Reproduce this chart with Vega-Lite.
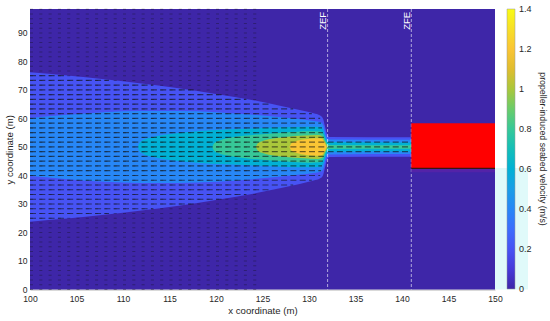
{
  "$schema": "https://vega.github.io/schema/vega-lite/v6.json",
  "autosize": {"type": "none"},
  "width": 465,
  "height": 280.5,
  "padding": {"left": 30, "top": 9, "right": 55, "bottom": 31.5},
  "background": "white",
  "config": {
    "view": {"stroke": null},
    "font": "Liberation Sans",
    "axis": {"labelFont": "Liberation Sans", "titleFont": "Liberation Sans", "labelColor": "#262626", "titleColor": "#262626", "labelFontSize": 8.6, "titleFontSize": 9.6, "titleFontWeight": "normal", "domainColor": "#7f7f7f", "domainWidth": 0.6, "ticks": false, "grid": false, "labelOverlap": false},
    "axisY": {"tickCount": 10},
    "legend": {"labelFont": "Liberation Sans", "titleFont": "Liberation Sans", "labelColor": "#262626", "titleColor": "#262626"}
  },
  "datasets": {
    "bands": [
      {"level": 0, "x": 100, "lo": 0, "hi": 98.4},
      {"level": 0, "x": 150, "lo": 0, "hi": 98.4},
      {"level": 0.2, "x": 100, "lo": 23.8, "hi": 76.2},
      {"level": 0.2, "x": 104, "lo": 24.9, "hi": 75.1},
      {"level": 0.2, "x": 108, "lo": 26.2, "hi": 73.8},
      {"level": 0.2, "x": 112, "lo": 27.7, "hi": 72.3},
      {"level": 0.2, "x": 116, "lo": 29.4, "hi": 70.6},
      {"level": 0.2, "x": 120, "lo": 31.4, "hi": 68.6},
      {"level": 0.2, "x": 124, "lo": 33.6, "hi": 66.4},
      {"level": 0.2, "x": 127, "lo": 35.6, "hi": 64.4},
      {"level": 0.2, "x": 129, "lo": 37.0, "hi": 63.0},
      {"level": 0.2, "x": 130.5, "lo": 38.2, "hi": 61.8},
      {"level": 0.2, "x": 131.2, "lo": 39.0, "hi": 61.0},
      {"level": 0.2, "x": 131.5, "lo": 40.0, "hi": 60.0},
      {"level": 0.2, "x": 131.7, "lo": 42.5, "hi": 57.5},
      {"level": 0.2, "x": 131.9, "lo": 45.2, "hi": 54.8},
      {"level": 0.2, "x": 132.2, "lo": 46.5, "hi": 53.5},
      {"level": 0.2, "x": 141, "lo": 46.6, "hi": 53.4},
      {"level": 0.4, "x": 100, "lo": 39.8, "hi": 60.2},
      {"level": 0.4, "x": 104, "lo": 38.7, "hi": 61.3},
      {"level": 0.4, "x": 108, "lo": 37.8, "hi": 62.2},
      {"level": 0.4, "x": 112, "lo": 37.4, "hi": 62.6},
      {"level": 0.4, "x": 116, "lo": 37.4, "hi": 62.6},
      {"level": 0.4, "x": 120, "lo": 37.8, "hi": 62.2},
      {"level": 0.4, "x": 124, "lo": 38.7, "hi": 61.3},
      {"level": 0.4, "x": 127, "lo": 39.6, "hi": 60.4},
      {"level": 0.4, "x": 129, "lo": 40.3, "hi": 59.7},
      {"level": 0.4, "x": 130.5, "lo": 40.9, "hi": 59.1},
      {"level": 0.4, "x": 131.3, "lo": 41.4, "hi": 58.6},
      {"level": 0.4, "x": 131.6, "lo": 43.0, "hi": 57.0},
      {"level": 0.4, "x": 131.8, "lo": 46.0, "hi": 54.0},
      {"level": 0.4, "x": 132.1, "lo": 47.4, "hi": 52.6},
      {"level": 0.4, "x": 141, "lo": 47.5, "hi": 52.5},
      {"level": 0.6, "x": 111.6, "lo": 50.0, "hi": 50.0},
      {"level": 0.6, "x": 111.8, "lo": 48.5, "hi": 51.5},
      {"level": 0.6, "x": 112.3, "lo": 47.4, "hi": 52.6},
      {"level": 0.6, "x": 113.2, "lo": 46.5, "hi": 53.5},
      {"level": 0.6, "x": 114.5, "lo": 45.7, "hi": 54.3},
      {"level": 0.6, "x": 116, "lo": 45.1, "hi": 54.9},
      {"level": 0.6, "x": 118, "lo": 44.5, "hi": 55.5},
      {"level": 0.6, "x": 121, "lo": 43.9, "hi": 56.1},
      {"level": 0.6, "x": 124, "lo": 43.5, "hi": 56.5},
      {"level": 0.6, "x": 127, "lo": 43.1, "hi": 56.9},
      {"level": 0.6, "x": 130, "lo": 42.9, "hi": 57.1},
      {"level": 0.6, "x": 131.2, "lo": 43.0, "hi": 57.0},
      {"level": 0.6, "x": 131.5, "lo": 44.0, "hi": 56.0},
      {"level": 0.6, "x": 131.8, "lo": 47.0, "hi": 53.0},
      {"level": 0.6, "x": 132.1, "lo": 48.3, "hi": 51.7},
      {"level": 0.6, "x": 141, "lo": 48.4, "hi": 51.6},
      {"level": 0.8, "x": 119.6, "lo": 50.0, "hi": 50.0},
      {"level": 0.8, "x": 119.8, "lo": 48.7, "hi": 51.3},
      {"level": 0.8, "x": 120.4, "lo": 47.7, "hi": 52.3},
      {"level": 0.8, "x": 121.5, "lo": 46.8, "hi": 53.2},
      {"level": 0.8, "x": 123, "lo": 46.1, "hi": 53.9},
      {"level": 0.8, "x": 125, "lo": 45.5, "hi": 54.5},
      {"level": 0.8, "x": 127.5, "lo": 44.9, "hi": 55.1},
      {"level": 0.8, "x": 130, "lo": 44.5, "hi": 55.5},
      {"level": 0.8, "x": 131.2, "lo": 44.6, "hi": 55.4},
      {"level": 0.8, "x": 131.5, "lo": 45.4, "hi": 54.6},
      {"level": 0.8, "x": 131.8, "lo": 48.0, "hi": 52.0},
      {"level": 0.8, "x": 132.1, "lo": 49.3, "hi": 50.7},
      {"level": 0.8, "x": 141, "lo": 49.4, "hi": 50.6},
      {"level": 1.0, "x": 124.3, "lo": 50.0, "hi": 50.0},
      {"level": 1.0, "x": 124.5, "lo": 48.7, "hi": 51.3},
      {"level": 1.0, "x": 125.1, "lo": 47.8, "hi": 52.2},
      {"level": 1.0, "x": 126, "lo": 47.1, "hi": 52.9},
      {"level": 1.0, "x": 127.5, "lo": 46.5, "hi": 53.5},
      {"level": 1.0, "x": 129.5, "lo": 46.0, "hi": 54.0},
      {"level": 1.0, "x": 131, "lo": 45.8, "hi": 54.2},
      {"level": 1.0, "x": 131.4, "lo": 46.2, "hi": 53.8},
      {"level": 1.0, "x": 131.7, "lo": 48.0, "hi": 52.0},
      {"level": 1.0, "x": 132, "lo": 50.0, "hi": 50.0},
      {"level": 1.2, "x": 127.9, "lo": 50.0, "hi": 50.0},
      {"level": 1.2, "x": 128.1, "lo": 48.8, "hi": 51.2},
      {"level": 1.2, "x": 128.6, "lo": 48.0, "hi": 52.0},
      {"level": 1.2, "x": 129.4, "lo": 47.4, "hi": 52.6},
      {"level": 1.2, "x": 130.3, "lo": 47.0, "hi": 53.0},
      {"level": 1.2, "x": 131, "lo": 46.9, "hi": 53.1},
      {"level": 1.2, "x": 131.4, "lo": 47.2, "hi": 52.8},
      {"level": 1.2, "x": 131.7, "lo": 48.6, "hi": 51.4},
      {"level": 1.2, "x": 131.9, "lo": 50.0, "hi": 50.0}
    ],
    "bgRows": [
      {"y": 0, "x0": 100, "x1": 125}, {"y": 1.667, "x0": 100, "x1": 125}, {"y": 3.333, "x0": 100, "x1": 125}, {"y": 5, "x0": 100, "x1": 125}, {"y": 6.667, "x0": 100, "x1": 125},
      {"y": 8.333, "x0": 100, "x1": 125}, {"y": 10, "x0": 100, "x1": 125}, {"y": 11.667, "x0": 100, "x1": 125}, {"y": 13.333, "x0": 100, "x1": 125}, {"y": 15, "x0": 100, "x1": 125},
      {"y": 16.667, "x0": 100, "x1": 125}, {"y": 18.333, "x0": 100, "x1": 125}, {"y": 20, "x0": 100, "x1": 125}, {"y": 21.667, "x0": 100, "x1": 125}, {"y": 23.333, "x0": 100, "x1": 125},
      {"y": 25, "x0": 100, "x1": 125}, {"y": 26.667, "x0": 100, "x1": 125}, {"y": 28.333, "x0": 100, "x1": 125}, {"y": 30, "x0": 100, "x1": 125}, {"y": 31.667, "x0": 100, "x1": 125},
      {"y": 33.333, "x0": 100, "x1": 125}, {"y": 35, "x0": 100, "x1": 125}, {"y": 36.667, "x0": 100, "x1": 125}, {"y": 38.333, "x0": 100, "x1": 125}, {"y": 40, "x0": 100, "x1": 125},
      {"y": 41.667, "x0": 100, "x1": 125}, {"y": 43.333, "x0": 100, "x1": 125}, {"y": 45, "x0": 100, "x1": 125}, {"y": 46.667, "x0": 100, "x1": 125}, {"y": 48.333, "x0": 100, "x1": 125},
      {"y": 50, "x0": 100, "x1": 125}, {"y": 51.667, "x0": 100, "x1": 125}, {"y": 53.333, "x0": 100, "x1": 125}, {"y": 55, "x0": 100, "x1": 125}, {"y": 56.667, "x0": 100, "x1": 125},
      {"y": 58.333, "x0": 100, "x1": 125}, {"y": 60, "x0": 100, "x1": 125}, {"y": 61.667, "x0": 100, "x1": 125}, {"y": 63.333, "x0": 100, "x1": 125}, {"y": 65, "x0": 100, "x1": 125},
      {"y": 66.667, "x0": 100, "x1": 125}, {"y": 68.333, "x0": 100, "x1": 125}, {"y": 70, "x0": 100, "x1": 125}, {"y": 71.667, "x0": 100, "x1": 125}, {"y": 73.333, "x0": 100, "x1": 125},
      {"y": 75, "x0": 100, "x1": 125}, {"y": 76.667, "x0": 100, "x1": 125}, {"y": 78.333, "x0": 100, "x1": 125}, {"y": 80, "x0": 100, "x1": 125}, {"y": 81.667, "x0": 100, "x1": 125},
      {"y": 83.333, "x0": 100, "x1": 125}, {"y": 85, "x0": 100, "x1": 125}, {"y": 86.667, "x0": 100, "x1": 125}, {"y": 88.333, "x0": 100, "x1": 125}, {"y": 90, "x0": 100, "x1": 125},
      {"y": 91.667, "x0": 100, "x1": 125}, {"y": 93.333, "x0": 100, "x1": 125}, {"y": 95, "x0": 100, "x1": 125}, {"y": 96.667, "x0": 100, "x1": 125}, {"y": 98.333, "x0": 100, "x1": 125}
    ],
    "plumeRows": [
      {"y": 50, "x0": 100, "x1": 131.7},
      {"y": 51.667, "x0": 100, "x1": 131.7}, {"y": 48.333, "x0": 100, "x1": 131.7},
      {"y": 53.333, "x0": 100, "x1": 131.6}, {"y": 46.667, "x0": 100, "x1": 131.6},
      {"y": 55, "x0": 100, "x1": 131.5}, {"y": 45, "x0": 100, "x1": 131.5},
      {"y": 56.667, "x0": 100, "x1": 131.4}, {"y": 43.333, "x0": 100, "x1": 131.4},
      {"y": 58.333, "x0": 100, "x1": 131.3}, {"y": 41.667, "x0": 100, "x1": 131.3},
      {"y": 60, "x0": 100, "x1": 131.2}, {"y": 40, "x0": 100, "x1": 131.2},
      {"y": 61.667, "x0": 100, "x1": 130.3}, {"y": 38.333, "x0": 100, "x1": 130.3},
      {"y": 63.333, "x0": 100, "x1": 128.3}, {"y": 36.667, "x0": 100, "x1": 128.3},
      {"y": 65, "x0": 100, "x1": 125.7}, {"y": 35, "x0": 100, "x1": 125.7},
      {"y": 66.667, "x0": 100, "x1": 123.2}, {"y": 33.333, "x0": 100, "x1": 123.2},
      {"y": 68.333, "x0": 100, "x1": 120.6}, {"y": 31.667, "x0": 100, "x1": 120.6},
      {"y": 70, "x0": 100, "x1": 117.6}, {"y": 30, "x0": 100, "x1": 117.6},
      {"y": 71.667, "x0": 100, "x1": 113.2}, {"y": 28.333, "x0": 100, "x1": 113.2},
      {"y": 73.333, "x0": 100, "x1": 108.5}, {"y": 26.667, "x0": 100, "x1": 108.5},
      {"y": 75, "x0": 100, "x1": 103.8}, {"y": 25, "x0": 100, "x1": 103.8},
      {"y": 50, "x0": 132, "x1": 141}, {"y": 51.667, "x0": 132, "x1": 141}, {"y": 48.333, "x0": 132, "x1": 141}
    ],
    "zones": [{"x": 132, "label": "ZEF", "ty": 97.4}, {"x": 141, "label": "ZFE", "ty": 97.4}],
    "structure": [{"x0": 141, "x1": 150, "y0": 42.5, "y1": 58.3, "yb": 41.1}],
    "panel": [{"x0": 150, "x1": 153.55, "y0": 0, "y1": 42.6}]
  },
  "layer": [
    {
      "data": {"name": "bands"},
      "transform": [{"filter": "datum.level == 0"}],
      "mark": {"type": "area"},
      "encoding": {
        "x": {"field": "x", "type": "quantitative", "scale": {"domain": [100, 150], "nice": false, "zero": false},
              "axis": {"title": "x coordinate (m)", "values": [100, 105, 110, 115, 120, 125, 130, 135, 140, 145, 150], "labelPadding": 5, "titlePadding": 2, "labelFlush": false, "labelOverlap": false}},
        "y": {"field": "hi", "type": "quantitative", "scale": {"domain": [0, 98.4], "nice": false, "zero": false},
              "axis": {"title": "y coordinate (m)", "values": [0, 10, 20, 30, 40, 50, 60, 70, 80, 90], "labelPadding": 3, "titlePadding": 3, "labelFlush": false, "labelOverlap": false}},
        "y2": {"field": "lo"},
        "color": {"field": "level", "type": "quantitative",
          "scale": {"domain": [0, 0.0875, 0.175, 0.2625, 0.35, 0.4375, 0.525, 0.6125, 0.7, 0.7875, 0.875, 0.9625, 1.05, 1.1375, 1.225, 1.3125, 1.4],
                    "range": ["#3e26a8", "#4537d5", "#484cf0", "#4562fc", "#337afd", "#2c90f0", "#21a3e3", "#0bb3d2", "#14beb8", "#33c79d", "#5acc77", "#93ca4b", "#c8c129", "#f1ba37", "#feca33", "#f5e327", "#f9fb15"]},
          "legend": {"title": "propeller-induced seabed velocity (m/s)", "orient": "right", "offset": 12, "padding": 0, "direction": "vertical",
                     "gradientLength": 280, "gradientThickness": 8, "gradientStrokeColor": "#9a9a9a", "gradientStrokeWidth": 0.5,
                     "values": [0, 0.2, 0.4, 0.6, 0.8, 1, 1.2, 1.4], "format": ".1~f", "labelFontSize": 9, "labelOffset": 4, "labelOverlap": false,
                     "encode": {"labels": {"update": {"baseline": {"value": "middle"}}}},
                     "titleOrient": "right", "titleAngle": 270, "titleAnchor": "middle", "titleFontSize": 8.8, "titleFontWeight": "normal", "titlePadding": 6, "titleLimit": 400}}
      }
    },
    {"data": {"name": "bands"}, "transform": [{"filter": "datum.level == 0.2"}], "mark": {"type": "area", "interpolate": "monotone"},
     "encoding": {"x": {"field": "x", "type": "quantitative"}, "y": {"field": "hi", "type": "quantitative"}, "y2": {"field": "lo"}, "color": {"field": "level", "type": "quantitative", "legend": null}}},
    {"data": {"name": "bands"}, "transform": [{"filter": "datum.level == 0.4"}], "mark": {"type": "area", "interpolate": "monotone"},
     "encoding": {"x": {"field": "x", "type": "quantitative"}, "y": {"field": "hi", "type": "quantitative"}, "y2": {"field": "lo"}, "color": {"field": "level", "type": "quantitative", "legend": null}}},
    {"data": {"name": "bands"}, "transform": [{"filter": "datum.level == 0.6"}], "mark": {"type": "area", "interpolate": "monotone"},
     "encoding": {"x": {"field": "x", "type": "quantitative"}, "y": {"field": "hi", "type": "quantitative"}, "y2": {"field": "lo"}, "color": {"field": "level", "type": "quantitative", "legend": null}}},
    {"data": {"name": "bands"}, "transform": [{"filter": "datum.level == 0.8"}], "mark": {"type": "area", "interpolate": "monotone"},
     "encoding": {"x": {"field": "x", "type": "quantitative"}, "y": {"field": "hi", "type": "quantitative"}, "y2": {"field": "lo"}, "color": {"field": "level", "type": "quantitative", "legend": null}}},
    {"data": {"name": "bands"}, "transform": [{"filter": "datum.level == 1"}], "mark": {"type": "area", "interpolate": "monotone"},
     "encoding": {"x": {"field": "x", "type": "quantitative"}, "y": {"field": "hi", "type": "quantitative"}, "y2": {"field": "lo"}, "color": {"field": "level", "type": "quantitative", "legend": null}}},
    {"data": {"name": "bands"}, "transform": [{"filter": "datum.level == 1.2"}], "mark": {"type": "area", "interpolate": "monotone"},
     "encoding": {"x": {"field": "x", "type": "quantitative"}, "y": {"field": "hi", "type": "quantitative"}, "y2": {"field": "lo"}, "color": {"field": "level", "type": "quantitative", "legend": null}}},
    {"data": {"name": "bgRows"}, "mark": {"type": "rule", "color": "#111111", "strokeWidth": 1.1, "opacity": 0.35, "strokeDash": [3, 6.3], "strokeCap": "butt"},
     "encoding": {"x": {"field": "x0", "type": "quantitative"}, "x2": {"field": "x1"}, "y": {"field": "y", "type": "quantitative"}}},
    {"data": {"name": "plumeRows"}, "mark": {"type": "rule", "color": "#111111", "strokeWidth": 1.2, "opacity": 0.6, "strokeDash": [6, 3.3], "strokeCap": "butt"},
     "encoding": {"x": {"field": "x0", "type": "quantitative"}, "x2": {"field": "x1"}, "y": {"field": "y", "type": "quantitative"}}},
    {"data": {"name": "zones"}, "mark": {"type": "rule", "color": "white", "strokeWidth": 0.8, "opacity": 0.75, "strokeDash": [3, 2]},
     "encoding": {"x": {"field": "x", "type": "quantitative"}}},
    {"data": {"name": "structure"}, "mark": {"type": "rect", "color": "#5323a8"},
     "encoding": {"x": {"field": "x0", "type": "quantitative"}, "x2": {"field": "x1"}, "y": {"field": "yb", "type": "quantitative"}, "y2": {"field": "y0"}}},
    {"data": {"name": "structure"}, "mark": {"type": "rect", "color": "#ff0000"},
     "encoding": {"x": {"field": "x0", "type": "quantitative"}, "x2": {"field": "x1"}, "y": {"field": "y0", "type": "quantitative"}, "y2": {"field": "y1"}}},
    {"data": {"name": "structure"}, "mark": {"type": "rule", "color": "#3a1616", "strokeWidth": 1.1},
     "encoding": {"x": {"field": "x0", "type": "quantitative"}, "x2": {"field": "x1"}, "y": {"field": "y0", "type": "quantitative"}}},
    {"data": {"name": "zones"}, "mark": {"type": "text", "color": "white", "angle": 270, "align": "right", "baseline": "alphabetic", "dy": -1.8, "fontSize": 9.5, "font": "Liberation Sans"},
     "encoding": {"x": {"field": "x", "type": "quantitative"}, "y": {"field": "ty", "type": "quantitative"}, "text": {"field": "label"}}},
    {"data": {"name": "panel"}, "mark": {"type": "rect", "color": "#e0fafa", "clip": false},
     "encoding": {"x": {"field": "x0", "type": "quantitative"}, "x2": {"field": "x1"}, "y": {"field": "y0", "type": "quantitative"}, "y2": {"field": "y1"}}}
  ]
}
